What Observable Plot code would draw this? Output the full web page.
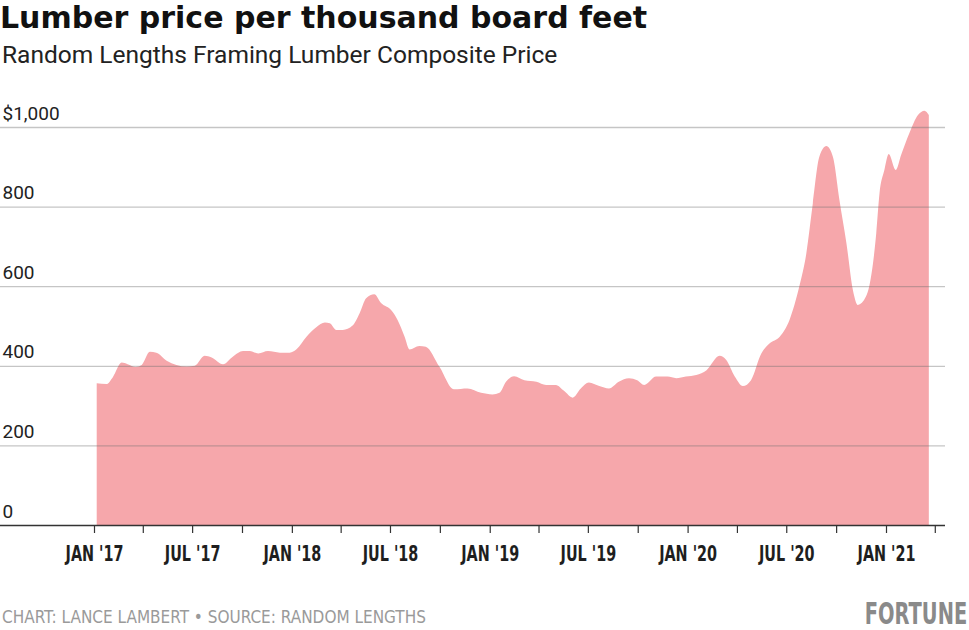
<!DOCTYPE html>
<html>
<head>
<meta charset="utf-8">
<script src="https://cdn.jsdelivr.net/npm/d3@7"></script>
<script src="https://cdn.jsdelivr.net/npm/@observablehq/plot@0.6"></script>
<style>
  html, body { margin: 0; padding: 0; background: #fff; }
  #page { position: relative; width: 969px; height: 630px; overflow: hidden; }
  #title { position: absolute; left: 0; top: 0; font-family: "DejaVu Sans", sans-serif; font-weight: 700; font-size: 30px; color: #111; white-space: nowrap; line-height: 35px; }
  #subtitle { position: absolute; left: 2px; top: 40px; font-family: Roboto, sans-serif; font-weight: 400; font-size: 24.5px; color: #222; white-space: nowrap; line-height: 30px; }
  #chart { position: absolute; left: 0; top: 90px; }
  #credit { position: absolute; left: 2px; top: 605px; font-family: "DejaVu Sans Condensed", sans-serif; font-size: 17px; color: #9a9a9a; white-space: nowrap; line-height: 24px; }
  #brand { position: absolute; right: 2px; top: 599px; font-family: "DejaVu Sans Condensed", sans-serif; font-weight: 700; font-size: 30px; color: #8a8a8a; white-space: nowrap; line-height: 30px; transform: scaleX(0.72); transform-origin: right center; }
</style>
</head>
<body>
<div id="page">
  <div id="title">Lumber price per thousand board feet</div>
  <div id="subtitle">Random Lengths Framing Lumber Composite Price</div>
  <div id="chart"></div>
  <div id="credit">CHART: LANCE LAMBERT • SOURCE: RANDOM LENGTHS</div>
  <div id="brand">FORTUNE</div>
</div>
<script>
// Random Lengths Framing Lumber Composite Price ($ per thousand board feet)
const dates = [
  "2017-01-06","2017-01-24","2017-02-05","2017-02-21","2017-03-04","2017-03-19","2017-03-30","2017-04-14","2017-04-26","2017-05-15",
  "2017-06-02","2017-06-21","2017-07-06","2017-07-24","2017-08-06","2017-08-27","2017-09-14","2017-10-03","2017-10-15","2017-10-31",
  "2017-11-18","2017-12-10","2017-12-28","2018-01-10","2018-01-28","2018-02-15","2018-03-03","2018-03-12","2018-03-24","2018-04-05",
  "2018-04-23","2018-05-06","2018-05-18","2018-06-02","2018-06-15","2018-07-03","2018-07-15","2018-07-28","2018-08-06","2018-08-24",
  "2018-09-05","2018-09-30","2018-10-27","2018-11-21","2018-12-16","2019-01-06","2019-01-19","2019-01-31","2019-02-15","2019-03-06",
  "2019-03-28","2019-04-15","2019-05-03","2019-05-18","2019-06-03","2019-06-18","2019-07-03","2019-07-22","2019-08-09","2019-08-27",
  "2019-09-15","2019-09-30","2019-10-13","2019-11-04","2019-11-25","2019-12-11","2019-12-29","2020-01-17","2020-02-05","2020-02-29",
  "2020-03-12","2020-03-28","2020-04-12","2020-04-27","2020-05-16","2020-05-31","2020-06-19","2020-07-07","2020-07-25","2020-08-07",
  "2020-08-19","2020-08-31","2020-09-13","2020-09-25","2020-10-07","2020-10-20","2020-11-01","2020-11-10","2020-11-25","2020-12-01",
  "2020-12-14","2020-12-20","2020-12-29","2021-01-06","2021-01-19","2021-01-29","2021-02-13","2021-03-01","2021-03-13","2021-03-21"
];
const prices = [
  356, 354, 372, 408, 404, 397, 402, 435, 433, 413,
  402, 398, 400, 425, 421, 404, 423, 437, 437, 431,
  437, 433, 433, 442, 473, 497, 509, 507, 490, 490,
  501, 532, 570, 580, 557, 540, 515, 473, 441, 450,
  448, 398, 341, 343, 332, 328, 332, 360, 374, 364,
  360, 352, 352, 337, 320, 343, 358, 349, 343, 360,
  369, 364, 352, 373, 373, 369, 373, 377, 389, 425,
  415, 373, 349, 364, 431, 456, 473, 515, 599, 682,
  808, 925, 952, 925, 817, 708, 590, 553, 574, 599,
  733, 833, 892, 932, 892, 930, 984, 1030, 1041, 1030
];
const yTicks = [0, 200, 400, 600, 800, 1000];
const yTickLabels = ["0", "200", "400", "600", "800", "$1,000"];
const xTickDates = [
  "2017-01-01","2017-04-01","2017-07-01","2017-10-01","2018-01-01","2018-04-01","2018-07-01","2018-10-01",
  "2019-01-01","2019-04-01","2019-07-01","2019-10-01","2020-01-01","2020-04-01","2020-07-01","2020-10-01",
  "2021-01-01","2021-04-01"
];
const xTickLabels = [
  "JAN '17","","JUL '17","","JAN '18","","JUL '18","",
  "JAN '19","","JUL '19","","JAN '20","","JUL '20","",
  "JAN '21",""
];

const data = dates.map((d, i) => ({date: new Date(d), value: prices[i]}));
const xTicks = xTickDates.map(d => new Date(d));
const labelFor = new Map(xTicks.map((d, i) => [+d, xTickLabels[i]]));
const yLabelFor = new Map(yTicks.map((v, i) => [v, yTickLabels[i]]));

const chart = Plot.plot({
  width: 969,
  height: 490,
  marginLeft: 0,
  marginRight: 24,
  marginTop: 37,
  marginBottom: 55,
  style: {fontFamily: "Roboto, sans-serif", background: "transparent", overflow: "visible"},
  x: {type: "utc", domain: [new Date("2017-01-01"), new Date("2021-01-01")], range: [94, 886]},
  y: {domain: [0, 1000], range: [435, 37], axis: null},
  marks: [
    Plot.areaY(data, {x: "date", y: "value", fill: "#f6a7ab", curve: "monotone-x"}),
    Plot.ruleY(yTicks.filter(v => v > 0), {stroke: "#6f6f6f", strokeOpacity: 0.4, strokeWidth: 1.3}),
    Plot.ruleY([0], {stroke: "#333", strokeWidth: 1.5}),
    Plot.text(yTicks, {
      y: d => d, text: d => yLabelFor.get(d), frameAnchor: "left", textAnchor: "start",
      lineAnchor: "bottom", dx: 2, dy: -8, fontSize: 19, fill: "#222"
    }),
    Plot.axisX({
      ticks: xTicks, tickSize: 8, tickPadding: 13, tickFormat: d => labelFor.get(+d) ?? "",
      fontSize: 20.5, fontWeight: 700, fontFamily: "'DejaVu Sans Condensed', sans-serif",
      fill: "#1e1e1e", stroke: "#333", strokeWidth: 1.2
    })
  ]
});
document.getElementById("chart").appendChild(chart);
// condense the bold x tick labels horizontally (around their own anchor)
chart.querySelectorAll('g[aria-label="x-axis tick label"] text').forEach(t => {
  const tr = t.getAttribute("transform");
  if (tr) t.setAttribute("transform", tr + " scale(0.78,1)");
});
</script>
</body>
</html>
